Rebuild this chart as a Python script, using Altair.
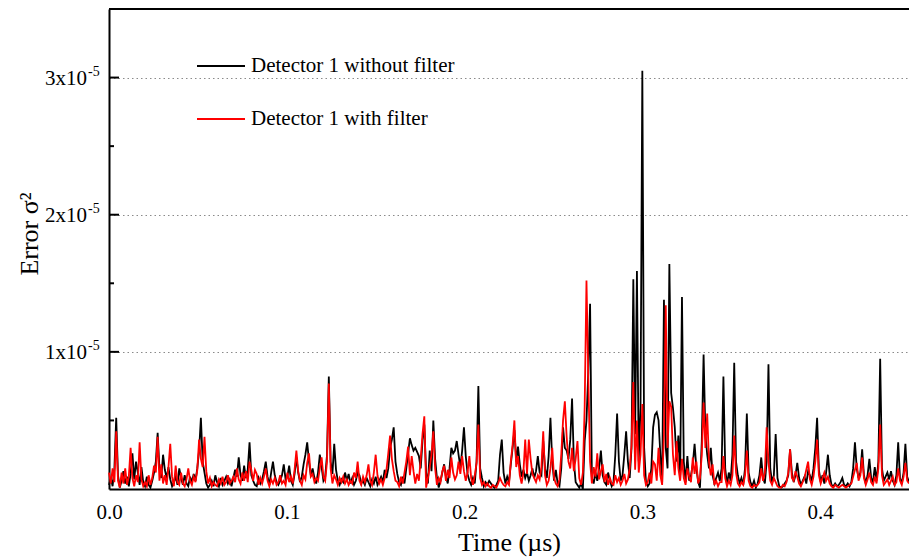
import altair as alt
import pandas as pd
import numpy as np

# Error sigma^2 in units of 1e-6, sampled uniformly over 0 .. 0.45 us
black = [
    0.3,0.8,0.2,1.5,5.2,1.0,0.1,0.6,1.3,0.4,0.9,0.2,1.1,2.6,0.7,2.0,1.2,0.3,1.6,0.5,
    0.2,0.9,0.3,0.1,0.6,1.2,2.0,4.1,1.5,0.8,2.5,1.4,0.8,1.6,0.7,0.2,0.5,0.9,0.3,1.5,
    0.8,0.3,1.0,0.4,0.2,0.9,0.5,1.1,0.6,1.5,2.8,5.2,2.0,1.2,0.4,0.1,0.3,0.6,0.2,1.0,
    0.5,0.2,0.8,0.3,0.6,0.9,0.4,0.7,0.2,0.8,1.4,0.9,2.3,1.0,0.6,1.7,0.8,1.4,3.4,1.0,
    0.6,0.3,0.2,0.8,0.4,0.7,1.3,2.0,0.9,0.3,1.2,2.0,1.0,0.5,0.3,0.6,1.0,1.8,0.7,0.9,
    1.7,0.6,0.3,1.1,2.3,1.2,0.5,0.9,1.8,2.5,3.4,2.0,1.0,1.5,0.8,0.4,1.2,2.5,1.6,0.6,
    0.9,2.5,8.2,2.0,1.1,3.3,1.4,0.6,0.3,0.7,0.5,1.2,0.6,1.1,0.4,0.8,0.3,0.6,1.2,1.0,
    0.4,0.6,0.3,0.8,0.5,0.2,0.7,0.4,0.9,0.3,0.6,0.9,0.5,1.4,0.8,1.5,3.0,3.6,4.5,2.0,
    1.1,0.5,0.3,0.9,0.4,1.5,2.6,3.7,3.2,2.8,3.0,2.7,2.4,1.5,3.5,4.7,1.2,0.4,2.8,1.3,
    5.0,2.2,0.8,0.1,0.6,1.2,1.8,0.9,0.4,1.5,3.0,2.6,2.8,3.5,2.5,1.6,2.8,4.5,2.4,1.1,
    0.6,0.3,0.8,0.4,2.0,7.5,1.5,0.8,0.2,0.5,0.3,0.6,0.4,0.2,0.1,0.3,0.6,2.5,3.6,1.2,
    0.4,0.9,0.5,1.8,3.0,4.3,2.0,3.1,1.8,0.9,1.4,0.8,1.2,0.6,1.0,1.5,0.8,1.3,2.4,1.2,
    1.0,3.5,1.5,0.8,2.4,5.2,2.0,0.6,1.4,0.4,0.2,1.5,4.5,3.0,2.8,2.2,3.6,6.6,2.0,0.5,
    0.3,0.1,0.4,0.0,3.5,5.0,8.5,13.5,0.8,0.4,1.2,0.6,1.5,2.8,1.0,0.5,0.3,1.2,0.6,0.2,
    0.5,2.5,5.5,2.0,0.6,1.0,2.5,4.2,2.0,0.8,3.0,15.3,4.0,15.9,2.0,6.0,30.5,3.0,0.5,0.2,
    0.4,1.5,4.5,5.4,5.6,5.0,2.5,0.5,13.8,3.0,1.5,16.4,7.0,5.9,4.5,2.0,3.9,1.0,14.0,2.0,
    0.5,2.4,0.6,1.0,1.8,3.3,1.5,0.5,0.1,3.5,9.8,4.0,2.5,1.5,3.0,1.0,0.4,0.8,1.2,0.6,
    1.5,8.2,1.5,0.3,1.2,0.6,2.5,9.2,2.0,1.0,0.4,0.8,0.3,1.5,5.5,1.2,0.5,0.2,0.6,0.1,
    0.4,1.0,2.3,0.8,0.4,2.0,9.1,1.5,0.5,1.0,4.0,0.8,0.2,0.1,0.2,0.4,0.6,1.0,2.9,1.2,
    0.5,1.0,1.9,0.8,0.3,0.6,0.9,0.4,1.3,1.0,0.6,1.5,3.0,5.2,1.4,0.5,1.0,0.4,1.2,2.5,
    1.0,0.3,0.2,0.4,0.2,0.3,0.5,0.8,0.3,0.2,0.4,0.2,0.5,1.5,3.4,1.5,0.8,1.2,2.9,1.0,
    0.4,1.0,2.2,0.8,0.5,1.6,0.6,2.0,9.5,1.5,0.6,0.9,1.2,0.7,1.3,0.6,0.3,1.0,3.4,0.8,
    0.4,1.2,3.3,0.9,0.5,
]

red = [
    1.2,0.4,1.5,0.5,4.2,0.6,0.1,1.2,0.4,1.5,0.3,0.9,3.0,0.8,0.2,1.0,0.5,3.4,0.7,0.2,
    0.5,0.2,1.0,0.3,0.8,1.7,1.2,3.8,0.6,1.8,0.4,1.0,0.3,1.6,3.3,0.9,0.2,1.7,0.5,0.3,
    1.2,0.4,0.2,0.7,1.5,0.6,0.3,0.9,0.5,1.4,3.6,2.2,1.6,3.8,1.3,0.4,0.8,0.2,0.5,0.3,
    0.2,0.7,0.4,0.9,0.3,0.5,1.0,0.4,0.6,0.9,0.5,1.5,0.7,0.4,1.2,0.6,1.3,0.5,2.0,1.4,
    0.6,1.4,1.1,0.3,0.8,0.4,0.9,1.5,0.6,0.2,0.7,0.4,0.8,0.3,0.5,1.0,0.4,0.6,0.3,1.2,
    0.5,0.9,0.4,1.4,2.8,1.3,0.6,0.3,1.0,0.7,1.9,2.6,0.9,1.1,0.5,0.8,0.6,1.5,2.3,0.9,
    0.6,2.0,7.7,1.5,0.4,1.0,0.7,0.3,0.8,0.5,0.9,0.4,0.7,0.3,0.6,0.4,1.2,0.8,2.0,0.6,
    0.3,0.9,0.5,1.0,1.8,0.6,0.3,1.2,2.5,1.0,0.4,0.7,0.3,0.8,1.4,2.6,3.9,2.2,1.3,0.6,
    0.5,0.2,0.9,0.4,1.2,2.0,3.1,1.0,2.4,1.3,0.4,1.1,0.6,2.2,4.0,5.3,0.1,0.8,1.6,2.5,
    4.2,1.5,0.3,0.8,0.5,1.3,1.7,0.6,1.4,0.8,2.3,1.2,0.7,1.0,2.0,1.1,2.4,1.3,0.6,1.2,
    2.4,0.8,0.3,1.0,1.9,4.7,0.8,0.3,0.5,0.2,0.4,0.2,0.1,0.3,0.2,0.1,0.4,0.8,0.5,0.3,
    0.2,0.5,0.3,2.0,3.2,5.0,1.6,2.4,1.0,0.4,1.2,3.6,1.1,3.6,2.2,1.1,0.8,0.5,1.0,0.7,
    1.6,4.2,1.0,0.3,0.6,1.5,3.0,0.8,0.4,0.2,0.7,2.5,5.0,6.4,3.8,2.0,1.5,3.0,1.3,2.2,
    3.5,0.8,0.3,1.2,6.0,15.2,8.2,2.0,0.4,1.6,0.9,2.6,0.7,1.3,1.8,0.5,1.1,0.3,0.8,0.4,
    0.3,1.0,0.5,0.8,0.3,0.6,1.1,0.4,0.7,1.5,3.2,7.8,1.4,5.0,1.2,2.5,6.2,1.0,0.3,0.5,
    1.2,0.4,2.0,1.8,0.6,3.0,1.0,0.3,4.0,13.4,3.0,6.4,6.0,2.5,1.0,3.5,1.5,0.6,2.2,0.8,
    0.3,1.5,0.9,0.5,2.3,1.1,2.0,0.4,0.8,2.5,6.3,3.0,5.5,2.0,1.0,1.8,0.3,0.6,0.2,0.5,
    0.5,2.4,0.8,0.2,0.6,0.3,1.0,3.9,1.2,0.4,0.2,0.5,0.3,1.0,2.8,0.6,0.2,0.1,0.3,0.2,
    0.3,0.5,1.5,0.6,1.2,4.5,2.0,0.6,0.3,0.8,0.5,0.2,0.1,0.1,0.3,0.2,0.5,1.2,2.9,0.8,
    0.6,1.3,0.9,0.4,0.2,0.5,0.8,1.4,2.0,0.7,0.3,0.9,2.0,3.6,1.0,0.4,0.8,1.2,0.6,0.9,
    0.4,0.2,0.1,0.3,0.2,0.1,0.2,0.3,0.2,0.1,0.2,0.3,0.4,0.9,1.4,1.9,0.6,1.0,2.3,0.8,
    0.3,0.7,1.2,0.5,0.3,0.9,0.4,1.5,4.7,1.0,0.3,0.5,0.7,0.3,0.6,0.9,0.3,0.5,1.5,0.6,
    0.3,0.9,1.9,0.6,0.4,
]

x_ticks = [0.0, 0.1, 0.2, 0.3, 0.4]
y_major = [10, 20, 30]
y_minor = [5, 15, 25]
y_label_base = ["1x10", "2x10", "3x10"]
y_label_sup = ["-5", "-5", "-5"]
legend_labels = ["Detector 1 without filter", "Detector 1 with filter"]

STEP = 0.45 / 444
df_b = pd.DataFrame({"t": np.arange(len(black)) * STEP, "v": black})
df_r = pd.DataFrame({"t": np.arange(len(red)) * STEP, "v": red})

FONT = "Liberation Serif"
xscale = alt.Scale(domain=[0, 0.45], nice=False, zero=False)
yscale = alt.Scale(domain=[0, 35], nice=False)

x_enc = alt.X(
    "t:Q", scale=xscale,
    axis=alt.Axis(values=x_ticks, format=".1f", title="Time (µs)",
                  labelFont=FONT, labelFontSize=21, labelColor="black",
                  titleFont=FONT, titleFontSize=26, titleFontWeight="normal",
                  titleColor="black", ticks=False, tickSize=0, labelPadding=12,
                  titlePadding=7, domainColor="black", domainWidth=2,
                  grid=False, labelFlush=False),
)
y_enc = alt.Y(
    "v:Q", scale=yscale,
    axis=alt.Axis(values=y_major, grid=True, gridDash=[1.5, 3], gridColor="#8a8a8a",
                  gridWidth=1, labels=False, ticks=False, tickSize=0,
                  domainColor="black", domainWidth=2, title=""),
)

line_b = alt.Chart(df_b).mark_line(color="black", strokeWidth=1.8).encode(x=x_enc, y=y_enc)
line_r = alt.Chart(df_r).mark_line(color="#ff0000", strokeWidth=1.8).encode(
    x=alt.X("t:Q", scale=xscale), y=alt.Y("v:Q", scale=yscale))

df_major = pd.DataFrame({"y": y_major, "base": y_label_base, "sup": y_label_sup})
df_minor = pd.DataFrame({"y": y_minor})

tick_major = alt.Chart(df_major).mark_rule(color="black", strokeWidth=2).encode(
    x=alt.value(0), x2=alt.value(10), y=alt.Y("y:Q", scale=yscale))
tick_minor = alt.Chart(df_minor).mark_rule(color="black", strokeWidth=2).encode(
    x=alt.value(0), x2=alt.value(5), y=alt.Y("y:Q", scale=yscale))

lab_base = alt.Chart(df_major).mark_text(
    font=FONT, fontSize=21, align="right", baseline="middle", color="black", dy=1
).encode(x=alt.value(-22), y=alt.Y("y:Q", scale=yscale), text="base:N")
lab_sup = alt.Chart(df_major).mark_text(
    font=FONT, fontSize=14, align="left", baseline="middle", color="black", dy=-6
).encode(x=alt.value(-21), y=alt.Y("y:Q", scale=yscale), text="sup:N")

top_line = alt.Chart(pd.DataFrame({"k": [0]})).mark_rule(color="black", strokeWidth=2).encode(
    x=alt.value(0), x2=alt.value(800), y=alt.value(0))

ytitle = alt.Chart(pd.DataFrame({"k": ["Error σ²"]})).mark_text(
    font=FONT, fontSize=26, angle=270, align="center", baseline="middle", color="black"
).encode(x=alt.value(-79), y=alt.value(225), text="k:N")

leg_colors = ["black", "#ff0000"]
leg_y = [57, 110]
legend_layers = []
for lab, col, yy in zip(legend_labels, leg_colors, leg_y):
    d = pd.DataFrame({"label": [lab]})
    legend_layers.append(
        alt.Chart(d).mark_rule(color=col, strokeWidth=2).encode(
            x=alt.value(88), x2=alt.value(136), y=alt.value(yy)))
    legend_layers.append(
        alt.Chart(d).mark_text(font=FONT, fontSize=21, align="left", baseline="middle",
                               color="black").encode(
            x=alt.value(142), y=alt.value(yy), text="label:N"))

chart = alt.layer(
    line_b, line_r, tick_major, tick_minor, lab_base, lab_sup, top_line, ytitle,
    *legend_layers
).properties(
    width=800, height=480,
    autosize=alt.AutoSizeParams(type="none"),
    padding={"left": 109, "top": 9, "right": 0, "bottom": 69},
    background="white",
).configure_view(stroke=None)

chart.save("out.html", embed_options={"renderer": "svg", "actions": False})
